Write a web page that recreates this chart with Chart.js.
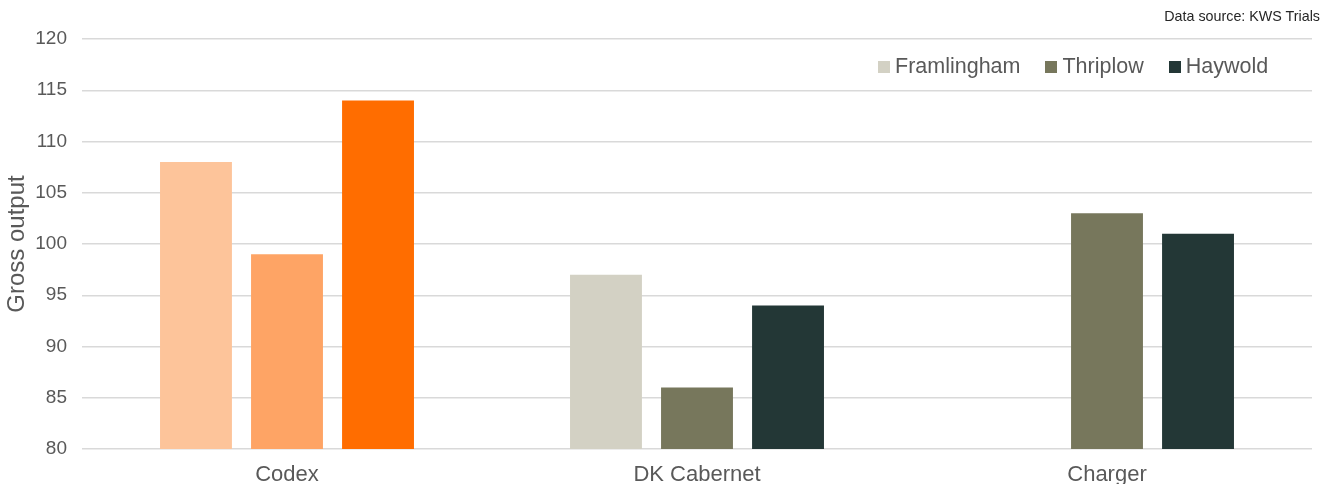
<!DOCTYPE html>
<html>
<head>
<meta charset="utf-8">
<script src="https://cdn.jsdelivr.net/npm/chart.js@4/dist/chart.umd.min.js"></script>
<style>
  html, body { margin: 0; padding: 0; background: #fff; overflow: hidden; }
  #wrap { position: relative; width: 1336px; height: 484px; font-family: "Liberation Sans", Arial, sans-serif; }
  #source { position: absolute; right: 16px; top: 8px; font-size: 14.3px; color: #262626; }
  #legend { position: absolute; left: 878px; top: 54px; display: flex; align-items: center; font-size: 21.5px; color: #595959; }
  #legend .item { display: flex; align-items: center; margin-right: 25px; }
  #legend .box { width: 12px; height: 12px; margin-right: 5px; margin-top: 1px; }
</style>
</head>
<body>
<div id="wrap">
  <canvas id="chart"></canvas>
  <div id="source">Data source: KWS Trials</div>
  <div id="legend"></div>
</div>
<script>
const varieties = ['Codex', 'DK Cabernet', 'Charger'];
const sites = ['Framlingham', 'Thriplow', 'Haywold'];
const framlingham = [108, 97, null];
const thriplow = [99, 86, 103];
const haywold = [114, 94, 101];

// Codex bars are in orange shades, the other varieties use the site colours
const siteColors = ['#D3D1C4', '#77775C', '#233736'];
const codexColors = ['#FDC49A', '#FEA465', '#FF6D00'];

const textGrey = '#595959';
const gridGrey = '#D9D9D9';

function barColors(i) {
    return varieties.map(v => v === 'Codex' ? codexColors[i] : siteColors[i]);
}

// legend as html so it can sit inside the plot, top right
const legendEl = document.querySelector('#legend');
sites.forEach((s, i) => {
    const item = document.createElement('div');
    item.className = 'item';
    item.innerHTML = '<span class="box" style="background:' + siteColors[i] + '"></span><span>' + s + '</span>';
    legendEl.appendChild(item);
});

Chart.defaults.font.family = '"Liberation Sans", Arial, sans-serif';
Chart.defaults.color = textGrey;

new Chart(document.querySelector('#chart').getContext('2d'), {
    type: 'bar',
    data: {
        labels: varieties,
        datasets: [framlingham, thriplow, haywold].map((values, i) => ({
            label: sites[i],
            data: values,
            backgroundColor: barColors(i),
            borderWidth: 0,
            barPercentage: 0.79,
            categoryPercentage: 0.666
        }))
    },
    options: {
        responsive: true,
        maintainAspectRatio: false,
        animation: false,
        layout: { padding: { left: 0, right: 24, top: 39, bottom: 0 } },
        plugins: {
            legend: { display: false },
            tooltip: { enabled: false }
        },
        scales: {
            x: {
                grid: { display: false },
                border: { display: false },
                ticks: { font: { size: 22 }, padding: 5, color: textGrey },
                afterFit: scale => { scale.height = 35; }
            },
            y: {
                min: 80,
                max: 120,
                ticks: { stepSize: 5, font: { size: 19 }, padding: 15, color: textGrey },
                grid: { color: gridGrey, lineWidth: 1.5, drawTicks: false },
                border: { display: false },
                title: {
                    display: true,
                    text: 'Gross output',
                    font: { size: 24 },
                    color: textGrey,
                    padding: { top: 3, bottom: 0 }
                },
                afterFit: scale => { scale.width = 82; }
            }
        }
    }
});
</script>
</body>
</html>
